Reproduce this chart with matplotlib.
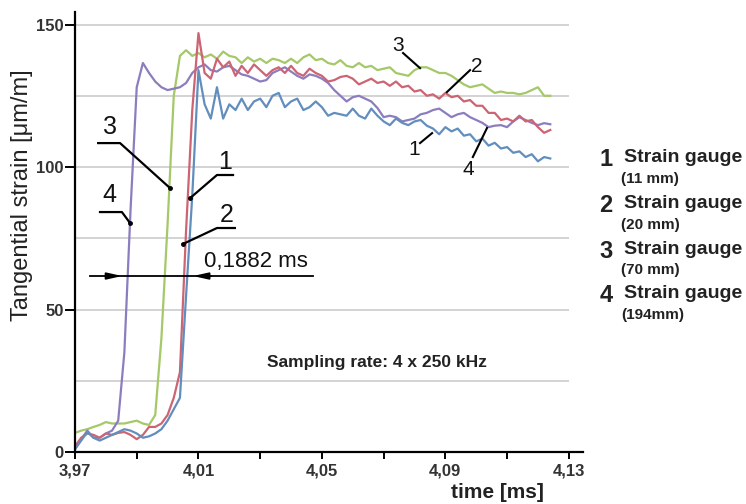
import numpy as np
import matplotlib
matplotlib.use("Agg")
import matplotlib.pyplot as plt

plt.rcParams['font.family'] = ['Liberation Sans', 'DejaVu Sans']

# sample times [ms], one sample every 0.002 ms
time_ms = np.round(np.arange(3.970, 4.1245, 0.002), 3)

# strain gauge 1 (11 mm) - blue
gauge1 = [1, 4, 7, 5, 4, 5, 6, 7, 8, 7.5,
          6.5, 5, 5.5, 6.5, 8, 11, 15, 19, 55, 90,
          134, 122, 117, 128, 117, 122, 120, 124, 120, 123,
          124, 121, 125, 126, 121, 123, 124, 120, 121, 123,
          121, 118, 119, 118.5, 118, 120.5, 118, 117, 120.5, 118,
          116, 114.7, 117, 115.5, 114.7, 116, 116.5, 114.5, 113.5, 111.5,
          114, 112.5, 113.5, 111, 111.5, 109, 110, 107.5, 108.5, 106.5,
          107, 105, 105.5, 103.5, 104.5, 102, 103.5, 103]
# strain gauge 2 (20 mm) - red
gauge2 = [2, 5, 6.5, 6, 5, 6.5, 6, 6.7, 7, 6,
          4.5, 6, 8.8, 8.8, 10, 13, 19, 28, 78, 120,
          147, 133, 131, 138, 135, 137, 132, 135.5, 133, 136,
          134, 132, 134, 135, 133, 135.5, 133, 132, 134.5, 133,
          132, 130, 130.5, 131.6, 132, 131, 129, 130, 131, 129.5,
          130, 128.5, 130, 128, 128.5, 126.5, 127, 125, 125.5, 124,
          126, 124.5, 125, 123, 123.5, 121.5, 121.5, 119, 119, 116.5,
          117, 116, 118, 116, 116.5, 114, 112, 113]
# strain gauge 3 (70 mm) - green
gauge3 = [6.7, 7.5, 8, 8.8, 9.5, 10.5, 10, 10, 10, 10.5,
          11, 10, 9.5, 13, 40, 80, 125, 139, 141, 139,
          140, 138.5, 139.5, 138, 140.5, 139, 138.5, 136.5, 138.5, 137,
          138, 136.5, 138, 137.5, 136.5, 138, 136.5, 138.5, 139.5, 137.5,
          138, 136.5, 136, 137.5, 135.5, 135, 136.5, 135, 135.5, 134,
          134.5, 135, 133, 132.5, 132, 134, 135, 135, 134, 133,
          133, 132, 130.5, 129, 128, 128.5, 129, 127.5, 126, 126.5,
          126, 126, 125.5, 126, 127, 128, 125, 125]
# strain gauge 4 (194 mm) - purple
gauge4 = [1, 4.5, 7.5, 5, 5, 6.5, 7.5, 11, 35, 85,
          128, 136.5, 133, 130, 128, 127, 127.5, 128, 129.5, 133,
          135, 136, 134, 133.5, 135, 135.5, 134, 132.5, 132, 131,
          130, 130.5, 133, 134, 135, 133.5, 132, 131, 132.5, 132,
          131, 129.5, 127, 125, 123, 124.5, 125, 124, 123, 120.7,
          117.5, 118, 117.5, 116, 116.5, 117, 118.5, 119, 120, 120.5,
          119, 117.5, 118.5, 119, 117.5, 116.5, 115.5, 114, 114.5, 114.7,
          114, 116, 117.5, 116.5, 115.5, 114.7, 115.4, 115]

series = [gauge3, gauge4, gauge2, gauge1]
colors = ["#a5c869", "#8c7dbe", "#cd6473", "#628ebe"]

x_major = [3.97, 4.01, 4.05, 4.09, 4.13]
x_labels = ["3,97", "4,01", "4,05", "4,09", "4,13"]
x_minor = [3.99, 4.03, 4.07, 4.11]
y_major = [0, 50, 100, 150]
grid_vals = [25, 50, 75, 100, 125, 150]

legend_num = ["1", "2", "3", "4"]
legend_size = ["(11 mm)", "(20 mm)", "(70 mm)", "(194mm)"]

fig = plt.figure(figsize=(7.46, 5.04), dpi=100)
ax = fig.add_axes([75/746, 52/504, 508/746, 440/504])

ax.hlines(grid_vals, 3.97, 4.13, color="#cccccc", lw=1.2, zorder=0)

for s, c in zip(series, colors):
    ax.plot(time_ms, s, color=c, lw=1.6, zorder=2,
            solid_joinstyle="round")

ax.set_xlim(3.97, 4.1346)
ax.set_ylim(0, 154.4)

for side in ["top", "right"]:
    ax.spines[side].set_visible(False)
for side in ["left", "bottom"]:
    ax.spines[side].set_linewidth(1.6)

ax.set_xticks(x_major)
ax.set_xticklabels(x_labels)
ax.set_xticks(x_minor, minor=True)
ax.set_yticks(y_major)
ax.tick_params(which="both", axis="x", length=5, width=1.4, pad=3)
ax.tick_params(axis="y", length=7, width=1.4, pad=1)
for lab in ax.get_xticklabels() + ax.get_yticklabels():
    lab.set_fontweight("bold")
    lab.set_fontsize(12)
    lab.set_color("#333333")

fig.text(22/746, 1 - 195/504, "Tangential strain [μm/m]", rotation=90,
         ha="center", va="center", fontsize=17, color="#222222")
fig.text(497/746, 1 - 492/504, "time [ms]", ha="center", va="center",
         fontsize=15, fontweight="bold", color="#222222")

# leader lines to the rising edges (label, text pos, polyline)
left_marks = [
    ("3", (3.9813, 114.0), [3.9775, 3.9846, 4.0008], [108.4, 108.4, 92.6]),
    ("1", (4.0186, 101.8), [4.0212, 4.0160, 4.0073], [97.2, 97.2, 89.1]),
    ("4", (3.9813, 90.2), [3.9781, 3.9852, 3.9878], [84.2, 84.2, 80.4]),
    ("2", (4.0192, 83.2), [4.0218, 4.0160, 4.0050], [78.6, 78.6, 73.0]),
]
for lab, pos, xs, ys in left_marks:
    ax.plot(xs, ys, color="k", lw=1.6, zorder=3)
    ax.plot(xs[-1], ys[-1], "o", color="k", ms=2.5, zorder=3)
    ax.text(pos[0], pos[1], lab, ha="center", va="center", fontsize=18,
            color="#111111")

# leader lines on the plateau
right_marks = [
    ("3", (4.0746, 142.8), [4.0763, 4.0818], [140.0, 134.7]),
    ("2", (4.1002, 135.1), [4.0980, 4.0905], [134.0, 126.3]),
    ("1", (4.0800, 106.0), [4.0818, 4.0857], [108.4, 111.9]),
    ("4", (4.0973, 99.0), [4.0989, 4.1035], [103.5, 113.7]),
]
for lab, pos, xs, ys in right_marks:
    ax.plot(xs, ys, color="k", lw=1.5, zorder=3)
    ax.text(pos[0], pos[1], lab, ha="center", va="center", fontsize=15,
            color="#111111")

# delay dimension
ax.plot([3.9749, 4.0471], [61.75, 61.75], color="k", lw=1.3, zorder=3)
ax.annotate("", xy=(3.9862, 61.75), xytext=(3.9790, 61.75),
            arrowprops=dict(arrowstyle="-|>,head_length=0.9,head_width=0.2",
                            color="k", lw=1.3))
ax.annotate("", xy=(4.0073, 61.75), xytext=(4.0150, 61.75),
            arrowprops=dict(arrowstyle="-|>,head_length=0.9,head_width=0.2",
                            color="k", lw=1.3))
ax.text(4.0285, 67.0, "0,1882 ms", ha="center", va="center", fontsize=16,
        color="#111111")

ax.text(4.0322, 31.5, "Sampling rate: 4 x 250 kHz", ha="left", va="center",
        fontsize=12.5, fontweight="bold", color="#222222")

# legend on the right
rows_y = [160, 206, 251, 296]
for num, size, yy in zip(legend_num, legend_size, rows_y):
    fig.text(606/746, 1 - yy/504, num, ha="center", va="center",
             fontsize=17, fontweight="bold", color="#222222")
    fig.text(624/746, 1 - (yy - 2)/504, "Strain gauge", ha="left", va="center",
             fontsize=14, fontweight="bold", color="#222222")
    fig.text(621/746, 1 - (yy + 19)/504, size, ha="left", va="center",
             fontsize=11, fontweight="bold", color="#222222")

fig.savefig("out.png", dpi=100)
